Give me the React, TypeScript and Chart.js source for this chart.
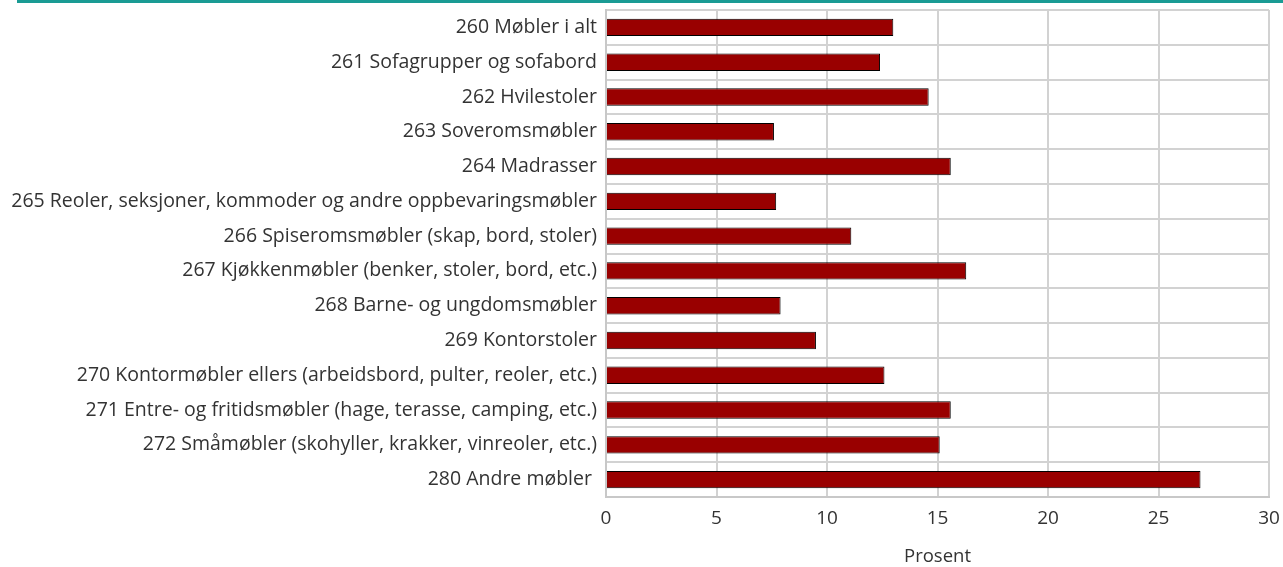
import React, { useEffect, useRef } from "react";
import { Chart, registerables } from "chart.js";

Chart.register(...registerables);

const categories: string[] = [
  "260 Møbler i alt",
  "261 Sofagrupper og sofabord",
  "262 Hvilestoler",
  "263 Soveromsmøbler",
  "264 Madrasser",
  "265 Reoler, seksjoner, kommoder og andre oppbevaringsmøbler",
  "266 Spiseromsmøbler (skap, bord, stoler)",
  "267 Kjøkkenmøbler (benker, stoler, bord, etc.)",
  "268 Barne- og ungdomsmøbler",
  "269 Kontorstoler",
  "270 Kontormøbler ellers (arbeidsbord, pulter, reoler, etc.)",
  "271 Entre- og fritidsmøbler (hage, terasse, camping, etc.)",
  "272 Småmøbler (skohyller, krakker, vinreoler, etc.)",
  "280 Andre møbler ",
];

const values: number[] = [13.0, 12.4, 14.6, 7.6, 15.6, 7.7, 11.1, 16.3, 7.9, 9.5, 12.6, 15.6, 15.1, 26.9];

const xTicks: number[] = [0, 5, 10, 15, 20, 25, 30];
const axisTitle = "Prosent";

const topLine = {
  id: "topLine",
  beforeDraw(chart: any) {
    const ctx = chart.ctx;
    ctx.save();
    ctx.fillStyle = "#1a9b94";
    ctx.fillRect(17, 0, chart.width - 17, 3);
    ctx.restore();
  },
};

export default function App() {
  const ref = useRef<HTMLCanvasElement | null>(null);
  useEffect(() => {
    if (!ref.current) return;
    const family = "'Open Sans', sans-serif";
    const chart = new Chart(ref.current, {
      type: "bar",
      data: {
        labels: categories,
        datasets: [
          {
            data: values,
            backgroundColor: "#990000",
            borderColor: "#000000",
            borderWidth: 1,
            barPercentage: 0.5,
            categoryPercentage: 1,
          },
        ],
      },
      options: {
        indexAxis: "y",
        animation: false,
        responsive: false,
        maintainAspectRatio: false,
        layout: { padding: 0 },
        plugins: { legend: { display: false }, tooltip: { enabled: false } },
        scales: {
          x: {
            min: 0,
            max: 30,
            afterBuildTicks(scale: any) {
              scale.ticks = xTicks.map((v) => ({ value: v }));
            },
            afterFit(scale: any) {
              scale.height = 70;
              scale.paddingRight = 14;
              scale.paddingLeft = 0;
            },
            grid: { color: "#d2d2d2", lineWidth: 2, drawTicks: false },
            border: { display: true, color: "#c8c8c8", width: 2 },
            ticks: { color: "#333333", font: { family, size: 19 }, padding: 10 },
            title: {
              display: true,
              text: axisTitle,
              color: "#333333",
              font: { family, size: 18.5, lineHeight: 1 },
              padding: { top: 0, bottom: 1 },
            },
          },
          y: {
            afterFit(scale: any) {
              scale.width = 606;
              scale.paddingTop = 10;
              scale.paddingBottom = 0;
            },
            grid: { color: "#d2d2d2", lineWidth: 2, drawTicks: false, offset: true },
            border: { display: true, color: "#c8c8c8", width: 2 },
            ticks: { color: "#333333", font: { family, size: 19.5 }, padding: 9, autoSkip: false },
          },
        },
      },
      plugins: [topLine],
    });
    return () => chart.destroy();
  }, []);
  return (
    <div style={{ position: "absolute", left: 0, top: 0, width: 1283, height: 567, background: "#fff" }}>
      <canvas ref={ref} width={1283} height={567} style={{ display: "block" }} />
    </div>
  );
}
